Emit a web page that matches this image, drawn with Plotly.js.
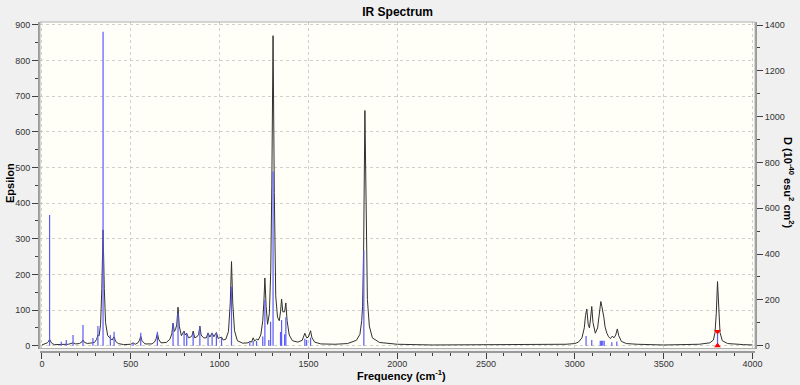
<!DOCTYPE html>
<html><head><meta charset="utf-8">
<script src="https://cdn.plot.ly/plotly-3.0.1.min.js"></script>
<style>html,body{margin:0;padding:0;background:#f0f0f0;}</style>
</head><body><div id="chart" style="width:800px;height:385px;"></div>
<script>
// Broadened spectrum (frequency cm-1, epsilon)
const specFreq = [0,20,30,36,43,50,57,70,100,109,120,137,150,175,190,210,224,231,238,255,280,287,295,308,315,322,330,337,344,351,358,370,385,395,406,415,430,460,500,513,525,540,549,556,563,580,620,636,643,650,657,670,700,720,731,738,745,752,759,766,773,785,800,807,815,825,838,845,851,860,875,882,889,896,910,925,935,945,958,968,982,992,1000,1011,1020,1035,1050,1060,1067,1074,1084,1100,1130,1160,1170,1180,1189,1197,1208,1218,1232,1243,1249,1255,1262,1270,1280,1288,1294,1301,1308,1316,1326,1336,1343,1349,1356,1366,1373,1380,1392,1410,1440,1465,1480,1490,1500,1512,1520,1535,1570,1650,1720,1770,1790,1800,1805,1811,1818,1825,1832,1843,1860,1900,2000,2200,2500,2800,2950,3000,3020,3040,3053,3060,3067,3075,3082,3088,3095,3102,3115,3128,3138,3146,3152,3157,3163,3170,3180,3190,3200,3211,3220,3230,3239,3247,3262,3290,3350,3500,3700,3760,3780,3789,3796,3803,3810,3817,3830,3860,3950,4000];
const specEps  = [2,5,8,11,18,11,6,3,3,5,3,5,4,8,5,6,10,16,10,6,7,9,9,18,30,28,60,160,325,160,65,28,22,16,25,12,6,3,4,8,4,8,15,27,14,5,5,12,20,35,18,8,9,18,33,63,40,45,60,108,55,28,41,30,35,22,25,28,41,22,26,32,55,30,22,22,36,24,36,25,37,20,22,24,16,18,40,120,236,120,42,14,7,8,12,10,22,13,18,16,30,70,120,190,110,60,90,210,450,870,430,140,80,70,95,131,95,95,120,70,30,14,10,15,35,22,24,42,22,10,5,4,6,15,32,70,110,280,660,330,130,55,22,9,4,2,2,2,4,6,10,22,50,85,103,60,50,75,110,65,35,50,95,124,110,100,80,53,35,25,20,27,22,30,47,28,12,6,4,2,4,8,16,37,90,180,90,37,14,6,3,2];

// Stick spectrum (frequency cm-1, dipole strength D in 1e-40 esu^2 cm^2)
const stickFreq = [43,109,137,175,231,287,315,344,385,406,513,556,650,738,766,800,815,851,889,935,958,982,1011,1067,1170,1189,1208,1243,1255,1277,1287,1301,1343,1349,1366,1373,1480,1490,1512,1812,3063,3095,3143,3150,3157,3165,3208,3236,3803];
const stickD    = [571,17,25,47,90,34,86,1371,47,61,12,57,61,99,143,61,50,55,83,55,55,55,34,258,15,20,20,40,199,25,104,760,60,112,50,124,30,25,35,415,42,25,22,22,22,22,15,18,62];

// Selected mode markers
const selFreq = [3803, 3803];
const selD = [62, 0];

const sx = [], sy = [];
for (let i = 0; i < stickFreq.length; i++) {
  sx.push(stickFreq[i], stickFreq[i], null);
  sy.push(0, stickD[i], null);
}

const FONT = 'Liberation Sans, Arial, sans-serif';
const traces = [
  {x: [0], y: [0], xaxis: 'x2', yaxis: 'y', mode: 'markers', marker: {opacity: 0}, hoverinfo: 'skip', showlegend: false},
  {x: specFreq, y: specEps, xaxis: 'x', yaxis: 'y', mode: 'lines', line: {color: '#303030', width: 1}, hoverinfo: 'skip', showlegend: false},
  {x: sx, y: sy, xaxis: 'x', yaxis: 'y2', mode: 'lines', line: {color: 'rgb(90,90,255)', width: 1.2}, hoverinfo: 'skip', showlegend: false},
  {x: selFreq, y: selD, xaxis: 'x', yaxis: 'y2', mode: 'markers', marker: {color: 'red', size: 6, symbol: ['triangle-down', 'triangle-up']}, hoverinfo: 'skip', showlegend: false}
];

const axisFont = {family: FONT, size: 9, color: '#333'};
const yDom = [0.0106, 1];
const layout = {
  width: 800, height: 385,
  paper_bgcolor: '#f0f0f0', plot_bgcolor: '#fffff7',
  margin: {l: 40, r: 45, t: 22, b: 33},
  title: {text: '<b>IR Spectrum</b>', x: 0.497, xanchor: 'center', y: 0.969, yanchor: 'middle', font: {family: FONT, size: 12, color: '#000'}},
  xaxis: {range: [-11, 4014], domain: [0, 1], dtick: 500, tick0: 0, showticklabels: false, ticks: '', showgrid: true, gridcolor: '#cfcfcf', griddash: 'dot', zeroline: false, showline: false},
  xaxis2: {overlaying: 'x', anchor: 'free', position: 0, range: [-11, 4014], dtick: 500, tick0: 0, ticks: 'outside', ticklen: 6, tickcolor: '#404040', ticklabelstandoff: -3, showline: true, linecolor: '#9a9a9a', linewidth: 2, showgrid: false, zeroline: false, tickfont: axisFont,
           minor: {dtick: 100, tick0: 0, ticks: 'outside', ticklen: 3, tickcolor: '#404040', showgrid: false}},
  yaxis: {range: [-7.9, 908.4], domain: yDom, dtick: 100, tick0: 0, ticks: 'outside', ticklen: 6, tickcolor: '#404040', showline: true, linecolor: '#9a9a9a', linewidth: 2, showgrid: true, gridcolor: '#cfcfcf', griddash: 'dot', zeroline: false, tickfont: axisFont,
          minor: {dtick: 50, tick0: 0, ticks: 'outside', ticklen: 3, tickcolor: '#404040', showgrid: false}},
  yaxis2: {overlaying: 'y', side: 'right', range: [-12.3, 1413.1], dtick: 200, tick0: 0, ticks: 'outside', ticklen: 6, tickcolor: '#404040', showline: true, linecolor: '#9a9a9a', linewidth: 2, showgrid: false, zeroline: false, tickfont: axisFont,
           minor: {dtick: 100, tick0: 0, ticks: 'outside', ticklen: 3, tickcolor: '#404040', showgrid: false}},
  shapes: [
    {type: 'rect', xref: 'paper', yref: 'paper', x0: 0, x1: 1, y0: yDom[0], y1: 1, line: {color: '#b0b0b0', width: 1}, fillcolor: 'rgba(0,0,0,0)', layer: 'above'}
  ],
  annotations: [
    {text: '<b>Epsilon</b>', xref: 'paper', yref: 'paper', x: -0.042, y: 0.512, textangle: -90, showarrow: false, xanchor: 'center', yanchor: 'middle', font: {family: FONT, size: 11, color: '#000'}},
    {text: '<b>D (10<sup>-40</sup> esu<sup>2</sup> cm<sup>2</sup>)</b>', xref: 'paper', yref: 'paper', x: 1.0476, y: 0.512, textangle: 90, showarrow: false, xanchor: 'center', yanchor: 'middle', font: {family: FONT, size: 11, color: '#000'}},
    {text: '<b>Frequency (cm<sup>-1</sup>)</b>', xref: 'paper', yref: 'paper', x: 0.505, y: -0.07, showarrow: false, xanchor: 'center', yanchor: 'middle', font: {family: FONT, size: 11, color: '#000'}}
  ]
};

Plotly.newPlot('chart', traces, layout, {displayModeBar: false, staticPlot: true});
</script></body></html>
